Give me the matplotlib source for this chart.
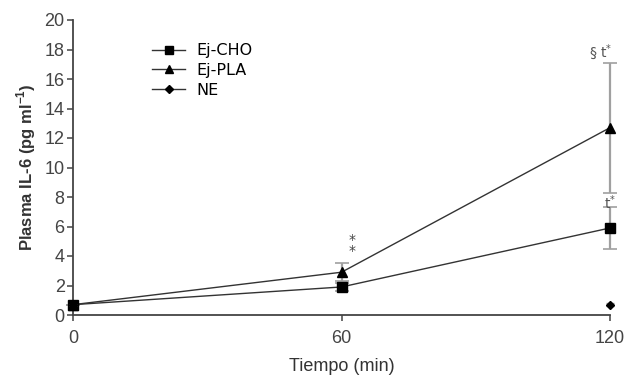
import matplotlib
matplotlib.use("Agg")
import matplotlib.pyplot as plt
from matplotlib.lines import Line2D
import numpy as np

times = [0, 60, 120]
cho_mean = [0.7, 1.9, 5.9]
cho_err = [0.0, 0.3, 1.4]
pla_mean = [0.7, 2.9, 12.7]
pla_err = [0.0, 0.6, 4.4]
ne_times = [0, 120]
ne_mean = [0.7, 0.7]
ne_err = [0.0, 0.1]
series_names = ["Ej-CHO", "Ej-PLA", "NE"]
yticks = [0, 2, 4, 6, 8, 10, 12, 14, 16, 18, 20]
xticks = [0, 60, 120]

fig = plt.figure(figsize=(6.27, 3.83), dpi=100)
ax = fig.add_axes([73/627, 1-315/383, (610-73)/627, (315-20)/383])

line_c = "#333333"
err_c = "#a0a0a0"

ax.errorbar(times, pla_mean, yerr=pla_err, color=line_c, ecolor=err_c, elinewidth=1.6,
            capsize=5, capthick=1.2, lw=1.0, marker="^", ms=7, mfc="black", mec="black",
            clip_on=False, zorder=3)
ax.errorbar(times, cho_mean, yerr=cho_err, color=line_c, ecolor=err_c, elinewidth=1.6,
            capsize=5, capthick=1.2, lw=1.0, marker="s", ms=7, mfc="black", mec="black",
            clip_on=False, zorder=3)
ax.errorbar(ne_times, ne_mean, yerr=ne_err, color=line_c, ecolor=err_c, elinewidth=1.2,
            capsize=3, lw=0, marker="D", ms=4.5, mfc="black", mec="black",
            clip_on=False, zorder=4)

ax.set_xlim(0, 120)
ax.set_ylim(0, 20)
ax.set_xticks(xticks)
ax.set_yticks(yticks)
for s in ["top", "right"]:
    ax.spines[s].set_visible(False)
for s in ["left", "bottom"]:
    ax.spines[s].set_color("#444444")
    ax.spines[s].set_linewidth(1.3)
ax.tick_params(axis="both", colors="#444444", labelcolor="#444444", labelsize=13,
               length=4, width=1.1, direction="out")
for lab in ax.get_yticklabels() + ax.get_xticklabels():
    lab.set_fontfamily("Liberation Sans")
ax.tick_params(axis="x", pad=7)
ax.tick_params(axis="y", pad=2)

ax.set_ylabel("Plasma IL-6 (pg ml$^{\\mathregular{-1}}$)", fontsize=12, fontweight="bold",
              family="Liberation Sans", color="#333333", labelpad=5)
ax.set_xlabel("Tiempo (min)", fontsize=13, family="Liberation Sans", color="#333333",
              labelpad=8)

handles = [
    Line2D([], [], color=line_c, lw=1.0, marker="s", ms=6, mfc="black", mec="black"),
    Line2D([], [], color=line_c, lw=1.0, marker="^", ms=6, mfc="black", mec="black"),
    Line2D([], [], color=line_c, lw=1.0, marker="D", ms=4, mfc="black", mec="black"),
]
leg = ax.legend(handles, series_names, loc="upper left", bbox_to_anchor=(0.12, 0.97),
                frameon=False, handlelength=2.1, handletextpad=0.7,
                labelspacing=0.3, prop={"family": "DejaVu Sans", "size": 11.5})

ax.text(62.3, 4.7, "*\n*", ha="center", va="center", fontsize=10, color="#444444",
        linespacing=0.75)
ax.text(120.5, 17.8, "§ t$^{*}$", ha="right", va="center", fontsize=10, color="#555555",
        clip_on=False)
ax.text(120, 7.6, "t$^{*}$", ha="center", va="center", fontsize=10, color="#555555",
        clip_on=False)

fig.savefig("out.png", dpi=100)
